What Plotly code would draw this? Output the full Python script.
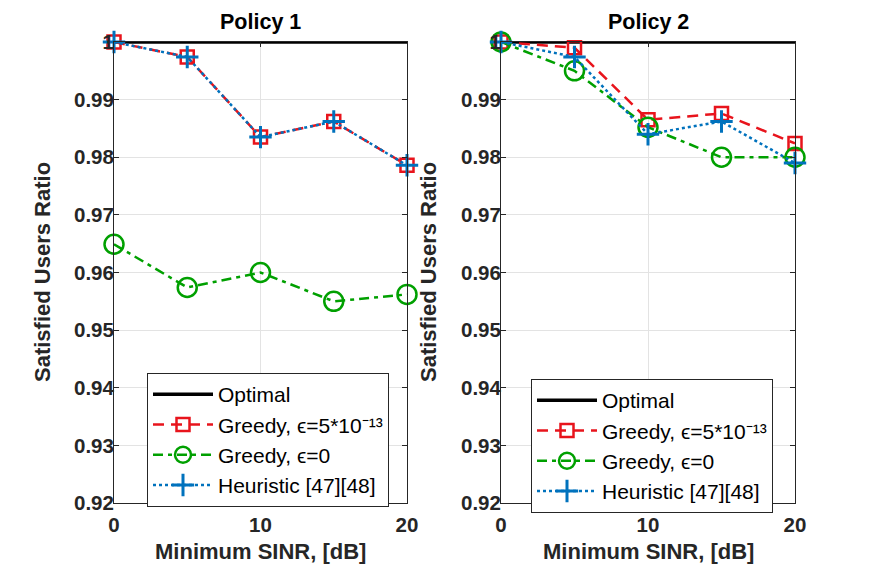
import plotly.graph_objects as go

sinr = [0, 5, 10, 15, 20]
optimal = [1, 1, 1, 1, 1]

p1_greedy_eps = [1.0, 0.9974, 0.9835, 0.9862, 0.9786]
p1_greedy_0 = [0.9649, 0.9574, 0.9600, 0.9550, 0.9562]
p1_heuristic = [1.0, 0.9974, 0.9835, 0.9862, 0.9786]

p2_greedy_eps = [1.0, 0.9990, 0.9865, 0.9876, 0.9824]
p2_greedy_0 = [1.0, 0.9950, 0.9852, 0.9800, 0.9800]
p2_heuristic = [1.0, 0.9974, 0.9840, 0.9862, 0.9790]

yticks = [0.92, 0.93, 0.94, 0.95, 0.96, 0.97, 0.98, 0.99, 1.0]
ytick_text = ["0.92", "0.93", "0.94", "0.95", "0.96", "0.97", "0.98", "0.99", "1"]
xticks = [0, 10, 20]

RED = "#e8141c"
GREEN = "#00a000"
BLUE = "#0072bd"
FONT = "Liberation Sans, Arial, sans-serif"
TXT = "#262626"

names = ["Optimal", "Greedy, ϵ=5*10⁻¹³", "Greedy, ϵ=0", "Heuristic [47][48]"]

fig = go.Figure()

def add_panel(xa, ya, leg, greedy_eps, greedy_0, heur):
    fig.add_trace(go.Scatter(x=sinr, y=optimal, mode="lines", name=names[0],
                             line=dict(color="black", width=3.5), xaxis=xa, yaxis=ya,
                             legend=leg, cliponaxis=False))
    fig.add_trace(go.Scatter(x=sinr, y=greedy_eps, mode="lines+markers", name=names[1],
                             line=dict(color=RED, width=2.5, dash="11px,7px"),
                             marker=dict(symbol="square-open", size=13, color=RED, line=dict(width=2.5, color=RED)),
                             xaxis=xa, yaxis=ya, legend=leg, cliponaxis=False))
    fig.add_trace(go.Scatter(x=sinr, y=greedy_0, mode="lines+markers", name=names[2],
                             line=dict(color=GREEN, width=2.5, dash="10px,5px,4px,5px"),
                             marker=dict(symbol="circle-open", size=19, color=GREEN, line=dict(width=2.5, color=GREEN)),
                             xaxis=xa, yaxis=ya, legend=leg, cliponaxis=False))
    fig.add_trace(go.Scatter(x=sinr, y=heur, mode="lines+markers", name=names[3],
                             line=dict(color=BLUE, width=2.5, dash="3px,3px"),
                             marker=dict(symbol="cross-thin-open", size=16, color=BLUE, line=dict(width=3, color=BLUE)),
                             xaxis=xa, yaxis=ya, legend=leg, cliponaxis=False))

add_panel("x", "y", "legend", p1_greedy_eps, p1_greedy_0, p1_heuristic)
add_panel("x2", "y2", "legend2", p2_greedy_eps, p2_greedy_0, p2_heuristic)

W, H = 878, 569
ydom = [(H - 503) / H, (H - 42) / H]
axis_common = dict(showline=True, linecolor=TXT, linewidth=1, mirror="ticks",
                   ticks="inside", ticklen=5, tickcolor=TXT, automargin=False,
                   showgrid=True, gridcolor="#e3e3e3", gridwidth=1, zeroline=False,
                   tickfont=dict(family=FONT, size=20.5, color=TXT, weight="bold"))

legend_common = dict(xanchor="left", yanchor="top", bgcolor="white", bordercolor=TXT, borderwidth=1,
                     font=dict(family=FONT, size=21, color="black"), itemwidth=60, tracegroupgap=0)

def title_ann(text, x, y, size, angle=0, color="black"):
    return dict(text=f"<b>{text}</b>", x=x / W, y=(H - y) / H, xref="paper", yref="paper",
                xanchor="center", yanchor="middle", showarrow=False, textangle=angle,
                font=dict(family=FONT, size=size, color=color))

fig.update_layout(
    width=W, height=H,
    margin=dict(l=0, r=0, t=0, b=0, autoexpand=False),
    paper_bgcolor="white", plot_bgcolor="white",
    xaxis=dict(domain=[114 / W, 407 / W], range=[0, 20], tickvals=xticks, anchor="y",
               ticklabelstandoff=3, **axis_common),
    yaxis=dict(domain=ydom, range=[0.92, 1.0], tickvals=yticks, ticktext=ytick_text, anchor="x",
               ticklabelstandoff=-5, **axis_common),
    xaxis2=dict(domain=[501 / W, 795 / W], range=[0, 20], tickvals=xticks, anchor="y2",
                ticklabelstandoff=3, **axis_common),
    yaxis2=dict(domain=ydom, range=[0.92, 1.0], tickvals=yticks, ticktext=ytick_text, anchor="x2",
                ticklabelstandoff=-5, **axis_common),
    legend=dict(x=147 / W, y=(H - 373) / H, **legend_common),
    legend2=dict(x=531 / W, y=(H - 379) / H, **legend_common),
    annotations=[
        title_ann("Policy 1", 260.5, 22, 21.5),
        title_ann("Policy 2", 648, 22, 21.5),
        title_ann("Minimum SINR, [dB]", 260.5, 551, 22, color=TXT),
        title_ann("Minimum SINR, [dB]", 648, 551, 22, color=TXT),
        title_ann("Satisfied Users Ratio", 42, 272, 22, angle=-90, color=TXT),
        title_ann("Satisfied Users Ratio", 428, 272, 22, angle=-90, color=TXT),
    ],
    showlegend=True,
)

fig.write_html("out.html")
